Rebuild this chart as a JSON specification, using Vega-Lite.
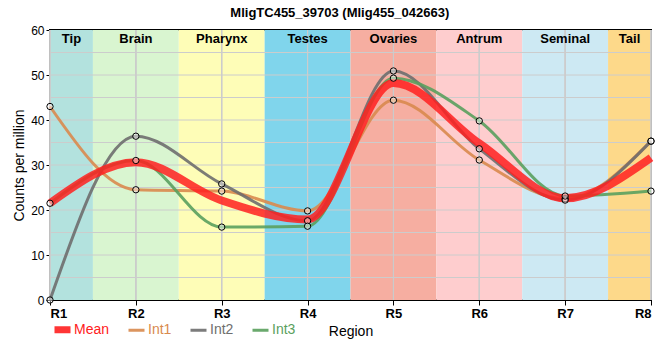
{
  "$schema": "https://vega.github.io/schema/vega-lite/v6.json",
  "width": 601,
  "height": 270,
  "autosize": "none",
  "padding": {"left": 50, "top": 30, "right": 9, "bottom": 60},
  "background": "white",
  "title": {"text": "MligTC455_39703 (Mlig455_042663)", "fontSize": 13, "fontWeight": "bold", "font": "Liberation Sans", "anchor": "middle", "frame": "bounds", "offset": 4, "color": "black"},
  "datasets": {
    "series": [
      {"x": 1, "series": "Mean", "v": 21.5}, {"x": 1, "series": "Int1", "v": 43}, {"x": 1, "series": "Int2", "v": 0}, {"x": 1, "series": "Int3", "v": 21.5},
      {"x": 2, "series": "Mean", "v": 30.6}, {"x": 2, "series": "Int1", "v": 24.5}, {"x": 2, "series": "Int2", "v": 36.4}, {"x": 2, "series": "Int3", "v": 31},
      {"x": 3, "series": "Mean", "v": 22.1}, {"x": 3, "series": "Int1", "v": 24.2}, {"x": 3, "series": "Int2", "v": 25.8}, {"x": 3, "series": "Int3", "v": 16.2},
      {"x": 4, "series": "Mean", "v": 17.9}, {"x": 4, "series": "Int1", "v": 19.8}, {"x": 4, "series": "Int2", "v": 17.6}, {"x": 4, "series": "Int3", "v": 16.4},
      {"x": 5, "series": "Mean", "v": 48.2}, {"x": 5, "series": "Int1", "v": 44.4}, {"x": 5, "series": "Int2", "v": 50.9}, {"x": 5, "series": "Int3", "v": 49.3},
      {"x": 6, "series": "Mean", "v": 34.8}, {"x": 6, "series": "Int1", "v": 31.1}, {"x": 6, "series": "Int2", "v": 33.6}, {"x": 6, "series": "Int3", "v": 39.8},
      {"x": 7, "series": "Mean", "v": 22.6}, {"x": 7, "series": "Int1", "v": 22.5}, {"x": 7, "series": "Int2", "v": 22.2}, {"x": 7, "series": "Int3", "v": 23.1},
      {"x": 8, "series": "Mean", "v": 31.6}, {"x": 8, "series": "Int1", "v": 35.3}, {"x": 8, "series": "Int2", "v": 35.3}, {"x": 8, "series": "Int3", "v": 24.2}
    ],
    "bands": [
      {"region": "Tip", "start": 1, "end": 1.5, "mid": 1.25},
      {"region": "Brain", "start": 1.5, "end": 2.5, "mid": 2},
      {"region": "Pharynx", "start": 2.5, "end": 3.5, "mid": 3},
      {"region": "Testes", "start": 3.5, "end": 4.5, "mid": 4},
      {"region": "Ovaries", "start": 4.5, "end": 5.5, "mid": 5},
      {"region": "Antrum", "start": 5.5, "end": 6.5, "mid": 6},
      {"region": "Seminal", "start": 6.5, "end": 7.5, "mid": 7},
      {"region": "Tail", "start": 7.5, "end": 8, "mid": 7.75}
    ],
    "grid": [
      {"y": 5}, {"y": 10}, {"y": 15}, {"y": 20}, {"y": 25}, {"y": 30},
      {"y": 35}, {"y": 40}, {"y": 45}, {"y": 50}, {"y": 55}
    ]
  },
  "config": {
    "font": "Liberation Sans",
    "view": {"stroke": "black", "strokeWidth": 2},
    "axis": {"labelFont": "Liberation Sans", "titleFont": "Liberation Sans", "domain": false, "tickColor": "black", "labelColor": "black", "titleColor": "black", "titleFontWeight": "normal", "grid": false},
    "axisX": {"labelFontSize": 13, "labelFontWeight": "bold", "titleFontSize": 14, "tickSize": 5, "labelPadding": 2, "titlePadding": 4},
    "axisY": {"labelFontSize": 12, "titleFontSize": 14, "tickSize": 4, "labelPadding": 2, "titlePadding": 4}
  },
  "layer": [
    {
      "data": {"name": "bands"},
      "mark": {"type": "rect"},
      "encoding": {
        "x": {"field": "start", "type": "quantitative", "scale": {"domain": [1, 8], "nice": false, "zero": false}, "title": "Region", "axis": {"values": [1, 2, 3, 4, 5, 6, 7, 8], "labelExpr": "'R' + datum.value"}},
        "x2": {"field": "end"},
        "y": {"datum": 0, "type": "quantitative", "scale": {"domain": [0, 60], "nice": false, "zero": true}, "title": "Counts per million", "axis": {"values": [0, 5, 10, 15, 20, 25, 30, 35, 40, 45, 50, 55, 60]}},
        "y2": {"datum": 60},
        "fill": {"field": "region", "type": "nominal", "legend": null, "scale": {"domain": ["Tip", "Brain", "Pharynx", "Testes", "Ovaries", "Antrum", "Seminal", "Tail"], "range": ["#b3e2de", "#d9f5d0", "#fefdb7", "#80d5ec", "#f6aea1", "#fecdce", "#cde9f3", "#fdd98a"]}}
      }
    },
    {
      "data": {"name": "series"},
      "mark": {"type": "rule", "color": "#cccccc", "strokeWidth": 1},
      "encoding": {
        "x": {"field": "x", "type": "quantitative", "title": "Region"}
      }
    },
    {
      "data": {"name": "grid"},
      "mark": {"type": "rule", "color": "#cccccc", "strokeWidth": 1},
      "encoding": {
        "y": {"field": "y", "type": "quantitative", "title": "Counts per million"}
      }
    },
    {
      "data": {"name": "bands"},
      "mark": {"type": "text", "fontWeight": "bold", "fontSize": 13, "color": "black", "baseline": "middle", "align": "center"},
      "encoding": {
        "x": {"field": "mid", "type": "quantitative", "title": "Region"},
        "y": {"datum": 57.9, "type": "quantitative", "title": "Counts per million"},
        "text": {"field": "region"}
      }
    },
    {
      "data": {"name": "series"},
      "transform": [{"filter": "datum.series !== 'Mean'"}],
      "mark": {"type": "line", "interpolate": "monotone", "strokeWidth": 3, "opacity": 0.9},
      "encoding": {
        "x": {"field": "x", "type": "quantitative", "title": "Region"},
        "y": {"field": "v", "type": "quantitative", "title": "Counts per million"},
        "color": {
          "field": "series", "type": "nominal",
          "scale": {"domain": ["Mean", "Int1", "Int2", "Int3"], "range": ["#ff2020", "#d98a4e", "#6e6e6e", "#5aa05e"]},
          "legend": {
            "orient": "none", "legendX": 3, "legendY": 290, "direction": "horizontal", "title": null,
            "symbolType": {"expr": "datum.value === 'Mean' ? 'M-1,-0.25H1M-1,0H1M-1,0.25H1' : 'M-1,0H1'"},
            "symbolSize": 256, "symbolStrokeWidth": 3,
            "labelColor": {"expr": "scale('color', datum.value)"},
            "labelFontSize": 14, "labelFont": "Liberation Sans", "columnPadding": 12, "labelOffset": 2, "padding": 0
          }
        }
      }
    },
    {
      "data": {"name": "series"},
      "transform": [{"filter": "datum.series === 'Mean'"}],
      "mark": {"type": "line", "interpolate": "monotone", "strokeWidth": 8, "opacity": 0.85},
      "encoding": {
        "x": {"field": "x", "type": "quantitative", "title": "Region"},
        "y": {"field": "v", "type": "quantitative", "title": "Counts per million"},
        "color": {"field": "series", "type": "nominal"}
      }
    },
    {
      "data": {"name": "series"},
      "transform": [{"filter": "datum.series !== 'Mean'"}],
      "mark": {"type": "point", "shape": "circle", "filled": true, "fill": "white", "fillOpacity": 0.45, "stroke": "black", "strokeWidth": 1, "size": 40, "opacity": 1},
      "encoding": {
        "x": {"field": "x", "type": "quantitative", "title": "Region"},
        "y": {"field": "v", "type": "quantitative", "title": "Counts per million"}
      }
    }
  ]
}
